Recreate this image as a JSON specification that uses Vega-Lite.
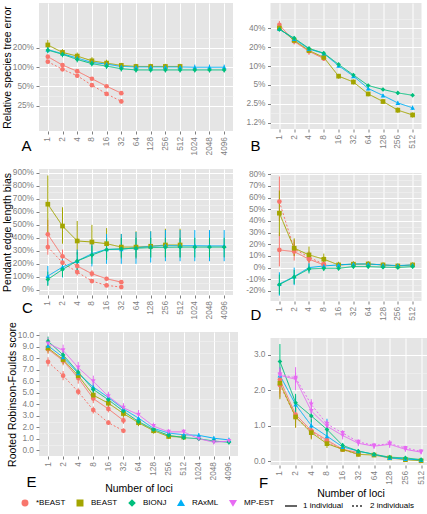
{
"$schema": "https://vega.github.io/schema/vega-lite/v6.json",
"padding": {"left": 2, "top": 3, "right": 2, "bottom": 2},
"background": "white",
"config": {
  "view": {"fill": "#E5E5E5", "stroke": null},
  "font": "Liberation Sans",
  "axis": {"domain": false, "labelColor": "#7F7F7F", "labelFontSize": 8.3, "tickColor": "#7F7F7F", "tickSize": 3, "gridColor": "#FFFFFF", "gridWidth": 1, "titleFontWeight": "normal", "titleFontSize": 10.5, "titleColor": "black", "labelPadding": 2.5, "titlePadding": 0, "labelOverlap": false},
  "axisX": {"labelAngle": -90},
  "axisY": {"tickCount": 100},
  "title": {"fontSize": 15, "fontWeight": "normal", "color": "black"},
  "legend": {"labelFontSize": 8, "labelColor": "black", "columnPadding": 8, "labelOffset": 7, "padding": 0, "gridAlign": "none"}
},
"data": {"values": [
{"p":"A","m":"*BEAST","i":"1 individual","x":1,"y":1.45,"lo":1.37,"hi":1.53},
{"p":"A","m":"*BEAST","i":"1 individual","x":2,"y":1.07,"lo":1.01,"hi":1.13},
{"p":"A","m":"*BEAST","i":"1 individual","x":4,"y":0.86,"lo":0.81,"hi":0.91},
{"p":"A","m":"*BEAST","i":"1 individual","x":8,"y":0.655,"lo":0.62,"hi":0.69},
{"p":"A","m":"*BEAST","i":"1 individual","x":16,"y":0.5,"lo":0.47,"hi":0.53},
{"p":"A","m":"*BEAST","i":"1 individual","x":32,"y":0.39,"lo":0.37,"hi":0.41},
{"p":"A","m":"*BEAST","i":"2 individuals","x":1,"y":1.21,"lo":1.14,"hi":1.28},
{"p":"A","m":"*BEAST","i":"2 individuals","x":2,"y":0.92,"lo":0.87,"hi":0.97},
{"p":"A","m":"*BEAST","i":"2 individuals","x":4,"y":0.73,"lo":0.69,"hi":0.77},
{"p":"A","m":"*BEAST","i":"2 individuals","x":8,"y":0.52,"lo":0.49,"hi":0.55},
{"p":"A","m":"*BEAST","i":"2 individuals","x":16,"y":0.38,"lo":0.36,"hi":0.4},
{"p":"A","m":"*BEAST","i":"2 individuals","x":32,"y":0.29,"lo":0.27,"hi":0.31},
{"p":"A","m":"BEAST","i":"1 individual","x":1,"y":2.21,"lo":1.95,"hi":2.65},
{"p":"A","m":"BEAST","i":"1 individual","x":2,"y":1.69,"lo":1.5,"hi":1.9},
{"p":"A","m":"BEAST","i":"1 individual","x":4,"y":1.48,"lo":1.3,"hi":1.68},
{"p":"A","m":"BEAST","i":"1 individual","x":8,"y":1.25,"lo":1.1,"hi":1.42},
{"p":"A","m":"BEAST","i":"1 individual","x":16,"y":1.15,"lo":1.02,"hi":1.3},
{"p":"A","m":"BEAST","i":"1 individual","x":32,"y":1.06,"lo":0.95,"hi":1.16},
{"p":"A","m":"BEAST","i":"1 individual","x":64,"y":1.02,"lo":0.93,"hi":1.12},
{"p":"A","m":"BEAST","i":"1 individual","x":128,"y":1.02,"lo":0.93,"hi":1.12},
{"p":"A","m":"BEAST","i":"1 individual","x":256,"y":1.02,"lo":0.93,"hi":1.12},
{"p":"A","m":"BEAST","i":"1 individual","x":512,"y":1.02,"lo":0.93,"hi":1.12},
{"p":"A","m":"RAxML","i":"1 individual","x":1,"y":1.87,"lo":1.66,"hi":2.1},
{"p":"A","m":"RAxML","i":"1 individual","x":2,"y":1.61,"lo":1.45,"hi":1.8},
{"p":"A","m":"RAxML","i":"1 individual","x":4,"y":1.38,"lo":1.24,"hi":1.52},
{"p":"A","m":"RAxML","i":"1 individual","x":8,"y":1.18,"lo":1.06,"hi":1.31},
{"p":"A","m":"RAxML","i":"1 individual","x":16,"y":1.11,"lo":1.0,"hi":1.23},
{"p":"A","m":"RAxML","i":"1 individual","x":32,"y":1.02,"lo":0.93,"hi":1.12},
{"p":"A","m":"RAxML","i":"1 individual","x":64,"y":1.0,"lo":0.91,"hi":1.1},
{"p":"A","m":"RAxML","i":"1 individual","x":128,"y":1.0,"lo":0.91,"hi":1.1},
{"p":"A","m":"RAxML","i":"1 individual","x":256,"y":1.0,"lo":0.91,"hi":1.1},
{"p":"A","m":"RAxML","i":"1 individual","x":512,"y":1.0,"lo":0.91,"hi":1.1},
{"p":"A","m":"RAxML","i":"1 individual","x":1024,"y":0.99,"lo":0.9,"hi":1.09},
{"p":"A","m":"RAxML","i":"1 individual","x":2048,"y":0.99,"lo":0.9,"hi":1.09},
{"p":"A","m":"RAxML","i":"1 individual","x":4096,"y":0.99,"lo":0.9,"hi":1.09},
{"p":"A","m":"BIONJ","i":"1 individual","x":1,"y":1.84,"lo":1.64,"hi":2.05},
{"p":"A","m":"BIONJ","i":"1 individual","x":2,"y":1.58,"lo":1.42,"hi":1.76},
{"p":"A","m":"BIONJ","i":"1 individual","x":4,"y":1.31,"lo":1.18,"hi":1.45},
{"p":"A","m":"BIONJ","i":"1 individual","x":8,"y":1.13,"lo":1.02,"hi":1.25},
{"p":"A","m":"BIONJ","i":"1 individual","x":16,"y":1.03,"lo":0.93,"hi":1.14},
{"p":"A","m":"BIONJ","i":"1 individual","x":32,"y":0.94,"lo":0.85,"hi":1.03},
{"p":"A","m":"BIONJ","i":"1 individual","x":64,"y":0.9,"lo":0.82,"hi":0.98},
{"p":"A","m":"BIONJ","i":"1 individual","x":128,"y":0.9,"lo":0.82,"hi":0.98},
{"p":"A","m":"BIONJ","i":"1 individual","x":256,"y":0.9,"lo":0.82,"hi":0.98},
{"p":"A","m":"BIONJ","i":"1 individual","x":512,"y":0.9,"lo":0.82,"hi":0.98},
{"p":"A","m":"BIONJ","i":"1 individual","x":1024,"y":0.9,"lo":0.82,"hi":0.98},
{"p":"A","m":"BIONJ","i":"1 individual","x":2048,"y":0.9,"lo":0.82,"hi":0.98},
{"p":"A","m":"BIONJ","i":"1 individual","x":4096,"y":0.9,"lo":0.82,"hi":0.98},

{"p":"B","m":"*BEAST","i":"1 individual","x":1,"y":0.45,"lo":0.4,"hi":0.52},
{"p":"B","m":"*BEAST","i":"1 individual","x":2,"y":0.246,"lo":0.22,"hi":0.275},
{"p":"B","m":"*BEAST","i":"1 individual","x":4,"y":0.171,"lo":0.15,"hi":0.19},
{"p":"B","m":"*BEAST","i":"1 individual","x":8,"y":0.131,"lo":0.12,"hi":0.145},
{"p":"B","m":"BEAST","i":"1 individual","x":1,"y":0.4,"lo":0.37,"hi":0.43},
{"p":"B","m":"BEAST","i":"1 individual","x":2,"y":0.255,"lo":0.24,"hi":0.27},
{"p":"B","m":"BEAST","i":"1 individual","x":4,"y":0.176,"lo":0.165,"hi":0.188},
{"p":"B","m":"BEAST","i":"1 individual","x":8,"y":0.137,"lo":0.128,"hi":0.147},
{"p":"B","m":"BEAST","i":"1 individual","x":16,"y":0.069,"lo":0.063,"hi":0.075},
{"p":"B","m":"BEAST","i":"1 individual","x":32,"y":0.0557,"lo":0.051,"hi":0.061},
{"p":"B","m":"BEAST","i":"1 individual","x":64,"y":0.036,"lo":0.033,"hi":0.039},
{"p":"B","m":"BEAST","i":"1 individual","x":128,"y":0.0273,"lo":0.025,"hi":0.03},
{"p":"B","m":"BEAST","i":"1 individual","x":256,"y":0.0199,"lo":0.018,"hi":0.022},
{"p":"B","m":"BEAST","i":"1 individual","x":512,"y":0.0167,"lo":0.0152,"hi":0.0183},
{"p":"B","m":"RAxML","i":"1 individual","x":1,"y":0.386,"lo":0.36,"hi":0.41},
{"p":"B","m":"RAxML","i":"1 individual","x":2,"y":0.268,"lo":0.25,"hi":0.285},
{"p":"B","m":"RAxML","i":"1 individual","x":4,"y":0.186,"lo":0.175,"hi":0.197},
{"p":"B","m":"RAxML","i":"1 individual","x":8,"y":0.158,"lo":0.149,"hi":0.167},
{"p":"B","m":"RAxML","i":"1 individual","x":16,"y":0.101,"lo":0.095,"hi":0.107},
{"p":"B","m":"RAxML","i":"1 individual","x":32,"y":0.069,"lo":0.065,"hi":0.073},
{"p":"B","m":"RAxML","i":"1 individual","x":64,"y":0.044,"lo":0.041,"hi":0.047},
{"p":"B","m":"RAxML","i":"1 individual","x":128,"y":0.034,"lo":0.032,"hi":0.036},
{"p":"B","m":"RAxML","i":"1 individual","x":256,"y":0.0259,"lo":0.024,"hi":0.028},
{"p":"B","m":"RAxML","i":"1 individual","x":512,"y":0.0217,"lo":0.02,"hi":0.0235},
{"p":"B","m":"BIONJ","i":"1 individual","x":1,"y":0.38,"lo":0.355,"hi":0.405},
{"p":"B","m":"BIONJ","i":"1 individual","x":2,"y":0.277,"lo":0.26,"hi":0.295},
{"p":"B","m":"BIONJ","i":"1 individual","x":4,"y":0.19,"lo":0.179,"hi":0.201},
{"p":"B","m":"BIONJ","i":"1 individual","x":8,"y":0.16,"lo":0.151,"hi":0.169},
{"p":"B","m":"BIONJ","i":"1 individual","x":16,"y":0.106,"lo":0.1,"hi":0.112},
{"p":"B","m":"BIONJ","i":"1 individual","x":32,"y":0.072,"lo":0.068,"hi":0.076},
{"p":"B","m":"BIONJ","i":"1 individual","x":64,"y":0.049,"lo":0.046,"hi":0.052},
{"p":"B","m":"BIONJ","i":"1 individual","x":128,"y":0.0424,"lo":0.04,"hi":0.045},
{"p":"B","m":"BIONJ","i":"1 individual","x":256,"y":0.0374,"lo":0.035,"hi":0.04},
{"p":"B","m":"BIONJ","i":"1 individual","x":512,"y":0.0343,"lo":0.032,"hi":0.0366},

{"p":"C","m":"*BEAST","i":"1 individual","x":1,"y":427,"lo":310,"hi":540},
{"p":"C","m":"*BEAST","i":"1 individual","x":2,"y":258,"lo":210,"hi":310},
{"p":"C","m":"*BEAST","i":"1 individual","x":4,"y":183,"lo":150,"hi":220},
{"p":"C","m":"*BEAST","i":"1 individual","x":8,"y":124,"lo":100,"hi":150},
{"p":"C","m":"*BEAST","i":"1 individual","x":16,"y":85,"lo":70,"hi":100},
{"p":"C","m":"*BEAST","i":"1 individual","x":32,"y":59,"lo":50,"hi":70},
{"p":"C","m":"*BEAST","i":"2 individuals","x":1,"y":329,"lo":270,"hi":390},
{"p":"C","m":"*BEAST","i":"2 individuals","x":2,"y":209,"lo":170,"hi":250},
{"p":"C","m":"*BEAST","i":"2 individuals","x":4,"y":137,"lo":110,"hi":160},
{"p":"C","m":"*BEAST","i":"2 individuals","x":8,"y":67,"lo":55,"hi":80},
{"p":"C","m":"*BEAST","i":"2 individuals","x":16,"y":34,"lo":28,"hi":42},
{"p":"C","m":"*BEAST","i":"2 individuals","x":32,"y":21,"lo":17,"hi":26},
{"p":"C","m":"BEAST","i":"1 individual","x":1,"y":659,"lo":430,"hi":880},
{"p":"C","m":"BEAST","i":"1 individual","x":2,"y":491,"lo":355,"hi":635},
{"p":"C","m":"BEAST","i":"1 individual","x":4,"y":376,"lo":270,"hi":530},
{"p":"C","m":"BEAST","i":"1 individual","x":8,"y":368,"lo":250,"hi":500},
{"p":"C","m":"BEAST","i":"1 individual","x":16,"y":355,"lo":250,"hi":475},
{"p":"C","m":"BEAST","i":"1 individual","x":32,"y":329,"lo":240,"hi":430},
{"p":"C","m":"BEAST","i":"1 individual","x":64,"y":329,"lo":240,"hi":450},
{"p":"C","m":"BEAST","i":"1 individual","x":128,"y":335,"lo":250,"hi":450},
{"p":"C","m":"BEAST","i":"1 individual","x":256,"y":345,"lo":250,"hi":470},
{"p":"C","m":"BEAST","i":"1 individual","x":512,"y":345,"lo":250,"hi":470},
{"p":"C","m":"RAxML","i":"1 individual","x":1,"y":106,"lo":35,"hi":183},
{"p":"C","m":"RAxML","i":"1 individual","x":2,"y":175,"lo":95,"hi":240},
{"p":"C","m":"RAxML","i":"1 individual","x":4,"y":222,"lo":130,"hi":310},
{"p":"C","m":"RAxML","i":"1 individual","x":8,"y":278,"lo":180,"hi":380},
{"p":"C","m":"RAxML","i":"1 individual","x":16,"y":312,"lo":200,"hi":430},
{"p":"C","m":"RAxML","i":"1 individual","x":32,"y":312,"lo":200,"hi":430},
{"p":"C","m":"RAxML","i":"1 individual","x":64,"y":324,"lo":200,"hi":445},
{"p":"C","m":"RAxML","i":"1 individual","x":128,"y":335,"lo":210,"hi":450},
{"p":"C","m":"RAxML","i":"1 individual","x":256,"y":340,"lo":220,"hi":460},
{"p":"C","m":"RAxML","i":"1 individual","x":512,"y":340,"lo":220,"hi":460},
{"p":"C","m":"RAxML","i":"1 individual","x":1024,"y":340,"lo":220,"hi":460},
{"p":"C","m":"RAxML","i":"1 individual","x":2048,"y":338,"lo":220,"hi":460},
{"p":"C","m":"RAxML","i":"1 individual","x":4096,"y":338,"lo":220,"hi":460},
{"p":"C","m":"BIONJ","i":"1 individual","x":1,"y":80,"lo":30,"hi":140},
{"p":"C","m":"BIONJ","i":"1 individual","x":2,"y":157,"lo":100,"hi":220},
{"p":"C","m":"BIONJ","i":"1 individual","x":4,"y":222,"lo":150,"hi":290},
{"p":"C","m":"BIONJ","i":"1 individual","x":8,"y":268,"lo":200,"hi":340},
{"p":"C","m":"BIONJ","i":"1 individual","x":16,"y":309,"lo":230,"hi":390},
{"p":"C","m":"BIONJ","i":"1 individual","x":32,"y":316,"lo":250,"hi":400},
{"p":"C","m":"BIONJ","i":"1 individual","x":64,"y":320,"lo":250,"hi":400},
{"p":"C","m":"BIONJ","i":"1 individual","x":128,"y":325,"lo":250,"hi":400},
{"p":"C","m":"BIONJ","i":"1 individual","x":256,"y":327,"lo":250,"hi":400},
{"p":"C","m":"BIONJ","i":"1 individual","x":512,"y":329,"lo":250,"hi":400},
{"p":"C","m":"BIONJ","i":"1 individual","x":1024,"y":329,"lo":250,"hi":400},
{"p":"C","m":"BIONJ","i":"1 individual","x":2048,"y":329,"lo":250,"hi":400},
{"p":"C","m":"BIONJ","i":"1 individual","x":4096,"y":329,"lo":250,"hi":400},

{"p":"D","m":"*BEAST","i":"1 individual","x":1,"y":0.151,"lo":0.01,"hi":0.3},
{"p":"D","m":"*BEAST","i":"1 individual","x":2,"y":0.137,"lo":0.06,"hi":0.22},
{"p":"D","m":"*BEAST","i":"1 individual","x":4,"y":0.072,"lo":0.03,"hi":0.12},
{"p":"D","m":"*BEAST","i":"1 individual","x":8,"y":0.023,"lo":0.0,"hi":0.05},
{"p":"D","m":"*BEAST","i":"2 individuals","x":1,"y":0.565,"lo":0.4,"hi":0.78},
{"p":"D","m":"*BEAST","i":"2 individuals","x":2,"y":0.16,"lo":0.1,"hi":0.24},
{"p":"D","m":"*BEAST","i":"2 individuals","x":4,"y":0.089,"lo":0.04,"hi":0.14},
{"p":"D","m":"*BEAST","i":"2 individuals","x":8,"y":0.029,"lo":0.0,"hi":0.06},
{"p":"D","m":"BEAST","i":"1 individual","x":1,"y":0.466,"lo":0.27,"hi":0.66},
{"p":"D","m":"BEAST","i":"1 individual","x":2,"y":0.166,"lo":0.1,"hi":0.25},
{"p":"D","m":"BEAST","i":"1 individual","x":4,"y":0.109,"lo":0.05,"hi":0.18},
{"p":"D","m":"BEAST","i":"1 individual","x":8,"y":0.072,"lo":0.03,"hi":0.12},
{"p":"D","m":"BEAST","i":"1 individual","x":16,"y":0.023,"lo":0.0,"hi":0.05},
{"p":"D","m":"BEAST","i":"1 individual","x":32,"y":0.029,"lo":0.005,"hi":0.055},
{"p":"D","m":"BEAST","i":"1 individual","x":64,"y":0.031,"lo":0.01,"hi":0.055},
{"p":"D","m":"BEAST","i":"1 individual","x":128,"y":0.023,"lo":0.005,"hi":0.045},
{"p":"D","m":"BEAST","i":"1 individual","x":256,"y":0.014,"lo":0.0,"hi":0.035},
{"p":"D","m":"BEAST","i":"1 individual","x":512,"y":0.023,"lo":0.005,"hi":0.045},
{"p":"D","m":"RAxML","i":"1 individual","x":1,"y":-0.14,"lo":-0.24,"hi":-0.04},
{"p":"D","m":"RAxML","i":"1 individual","x":2,"y":-0.077,"lo":-0.15,"hi":0.0},
{"p":"D","m":"RAxML","i":"1 individual","x":4,"y":0.0,"lo":-0.04,"hi":0.04},
{"p":"D","m":"RAxML","i":"1 individual","x":8,"y":0.014,"lo":-0.005,"hi":0.035},
{"p":"D","m":"RAxML","i":"1 individual","x":16,"y":0.023,"lo":0.005,"hi":0.04},
{"p":"D","m":"RAxML","i":"1 individual","x":32,"y":0.031,"lo":0.015,"hi":0.047},
{"p":"D","m":"RAxML","i":"1 individual","x":64,"y":0.031,"lo":0.015,"hi":0.047},
{"p":"D","m":"RAxML","i":"1 individual","x":128,"y":0.023,"lo":0.008,"hi":0.038},
{"p":"D","m":"RAxML","i":"1 individual","x":256,"y":0.017,"lo":0.002,"hi":0.032},
{"p":"D","m":"RAxML","i":"1 individual","x":512,"y":0.023,"lo":0.008,"hi":0.038},
{"p":"D","m":"BIONJ","i":"1 individual","x":1,"y":-0.145,"lo":-0.23,"hi":-0.06},
{"p":"D","m":"BIONJ","i":"1 individual","x":2,"y":-0.08,"lo":-0.14,"hi":-0.02},
{"p":"D","m":"BIONJ","i":"1 individual","x":4,"y":-0.011,"lo":-0.05,"hi":0.03},
{"p":"D","m":"BIONJ","i":"1 individual","x":8,"y":-0.006,"lo":-0.03,"hi":0.018},
{"p":"D","m":"BIONJ","i":"1 individual","x":16,"y":-0.006,"lo":-0.025,"hi":0.013},
{"p":"D","m":"BIONJ","i":"1 individual","x":32,"y":0.009,"lo":-0.008,"hi":0.026},
{"p":"D","m":"BIONJ","i":"1 individual","x":64,"y":0.009,"lo":-0.008,"hi":0.026},
{"p":"D","m":"BIONJ","i":"1 individual","x":128,"y":0.004,"lo":-0.012,"hi":0.02},
{"p":"D","m":"BIONJ","i":"1 individual","x":256,"y":0.001,"lo":-0.015,"hi":0.017},
{"p":"D","m":"BIONJ","i":"1 individual","x":512,"y":0.009,"lo":-0.007,"hi":0.025},

{"p":"E","m":"*BEAST","i":"1 individual","x":1,"y":8.8,"lo":8.4,"hi":9.2},
{"p":"E","m":"*BEAST","i":"1 individual","x":2,"y":7.8,"lo":7.4,"hi":8.2},
{"p":"E","m":"*BEAST","i":"1 individual","x":4,"y":6.3,"lo":5.8,"hi":6.8},
{"p":"E","m":"*BEAST","i":"1 individual","x":8,"y":4.5,"lo":4.1,"hi":4.9},
{"p":"E","m":"*BEAST","i":"1 individual","x":16,"y":3.6,"lo":3.3,"hi":3.9},
{"p":"E","m":"*BEAST","i":"1 individual","x":32,"y":2.6,"lo":2.3,"hi":2.9},
{"p":"E","m":"*BEAST","i":"2 individuals","x":1,"y":7.7,"lo":7.3,"hi":8.1},
{"p":"E","m":"*BEAST","i":"2 individuals","x":2,"y":6.5,"lo":6.1,"hi":6.9},
{"p":"E","m":"*BEAST","i":"2 individuals","x":4,"y":5.1,"lo":4.8,"hi":5.4},
{"p":"E","m":"*BEAST","i":"2 individuals","x":8,"y":3.5,"lo":3.2,"hi":3.8},
{"p":"E","m":"*BEAST","i":"2 individuals","x":16,"y":2.4,"lo":2.2,"hi":2.6},
{"p":"E","m":"*BEAST","i":"2 individuals","x":32,"y":1.7,"lo":1.5,"hi":1.9},
{"p":"E","m":"BEAST","i":"1 individual","x":1,"y":8.9,"lo":8.5,"hi":9.3},
{"p":"E","m":"BEAST","i":"1 individual","x":2,"y":7.9,"lo":7.5,"hi":8.3},
{"p":"E","m":"BEAST","i":"1 individual","x":4,"y":6.5,"lo":6.1,"hi":6.9},
{"p":"E","m":"BEAST","i":"1 individual","x":8,"y":4.8,"lo":4.4,"hi":5.2},
{"p":"E","m":"BEAST","i":"1 individual","x":16,"y":4.1,"lo":3.8,"hi":4.4},
{"p":"E","m":"BEAST","i":"1 individual","x":32,"y":3.2,"lo":2.9,"hi":3.5},
{"p":"E","m":"BEAST","i":"1 individual","x":64,"y":2.4,"lo":2.1,"hi":2.7},
{"p":"E","m":"BEAST","i":"1 individual","x":128,"y":1.7,"lo":1.45,"hi":1.95},
{"p":"E","m":"BEAST","i":"1 individual","x":256,"y":1.2,"lo":1.0,"hi":1.4},
{"p":"E","m":"BEAST","i":"1 individual","x":512,"y":1.15,"lo":0.95,"hi":1.35},
{"p":"E","m":"RAxML","i":"1 individual","x":1,"y":9.1,"lo":8.7,"hi":9.5},
{"p":"E","m":"RAxML","i":"1 individual","x":2,"y":8.1,"lo":7.7,"hi":8.5},
{"p":"E","m":"RAxML","i":"1 individual","x":4,"y":6.7,"lo":6.3,"hi":7.1},
{"p":"E","m":"RAxML","i":"1 individual","x":8,"y":5.5,"lo":5.1,"hi":5.9},
{"p":"E","m":"RAxML","i":"1 individual","x":16,"y":4.6,"lo":4.25,"hi":4.95},
{"p":"E","m":"RAxML","i":"1 individual","x":32,"y":3.6,"lo":3.25,"hi":3.95},
{"p":"E","m":"RAxML","i":"1 individual","x":64,"y":2.8,"lo":2.5,"hi":3.1},
{"p":"E","m":"RAxML","i":"1 individual","x":128,"y":1.9,"lo":1.65,"hi":2.15},
{"p":"E","m":"RAxML","i":"1 individual","x":256,"y":1.5,"lo":1.3,"hi":1.7},
{"p":"E","m":"RAxML","i":"1 individual","x":512,"y":1.35,"lo":1.15,"hi":1.55},
{"p":"E","m":"RAxML","i":"1 individual","x":1024,"y":1.3,"lo":1.1,"hi":1.5},
{"p":"E","m":"RAxML","i":"1 individual","x":2048,"y":1.05,"lo":0.85,"hi":1.25},
{"p":"E","m":"RAxML","i":"1 individual","x":4096,"y":0.9,"lo":0.7,"hi":1.1},
{"p":"E","m":"BIONJ","i":"1 individual","x":1,"y":9.5,"lo":9.1,"hi":9.9},
{"p":"E","m":"BIONJ","i":"1 individual","x":2,"y":8.3,"lo":7.9,"hi":8.7},
{"p":"E","m":"BIONJ","i":"1 individual","x":4,"y":6.8,"lo":6.4,"hi":7.2},
{"p":"E","m":"BIONJ","i":"1 individual","x":8,"y":5.3,"lo":4.9,"hi":5.7},
{"p":"E","m":"BIONJ","i":"1 individual","x":16,"y":4.4,"lo":4.05,"hi":4.75},
{"p":"E","m":"BIONJ","i":"1 individual","x":32,"y":3.4,"lo":3.1,"hi":3.7},
{"p":"E","m":"BIONJ","i":"1 individual","x":64,"y":2.5,"lo":2.2,"hi":2.8},
{"p":"E","m":"BIONJ","i":"1 individual","x":128,"y":1.8,"lo":1.55,"hi":2.05},
{"p":"E","m":"BIONJ","i":"1 individual","x":256,"y":1.3,"lo":1.1,"hi":1.5},
{"p":"E","m":"BIONJ","i":"1 individual","x":512,"y":1.1,"lo":0.9,"hi":1.3},
{"p":"E","m":"BIONJ","i":"1 individual","x":1024,"y":1.0,"lo":0.8,"hi":1.2},
{"p":"E","m":"BIONJ","i":"1 individual","x":2048,"y":0.8,"lo":0.6,"hi":1.0},
{"p":"E","m":"BIONJ","i":"1 individual","x":4096,"y":0.7,"lo":0.5,"hi":0.9},
{"p":"E","m":"MP-EST","i":"1 individual","x":1,"y":9.3,"lo":8.8,"hi":9.8},
{"p":"E","m":"MP-EST","i":"1 individual","x":2,"y":8.7,"lo":8.2,"hi":9.2},
{"p":"E","m":"MP-EST","i":"1 individual","x":4,"y":7.2,"lo":6.7,"hi":7.7},
{"p":"E","m":"MP-EST","i":"1 individual","x":8,"y":6.0,"lo":5.5,"hi":6.5},
{"p":"E","m":"MP-EST","i":"1 individual","x":16,"y":4.7,"lo":4.3,"hi":5.1},
{"p":"E","m":"MP-EST","i":"1 individual","x":32,"y":3.7,"lo":3.3,"hi":4.1},
{"p":"E","m":"MP-EST","i":"1 individual","x":64,"y":3.1,"lo":2.7,"hi":3.5},
{"p":"E","m":"MP-EST","i":"1 individual","x":128,"y":2.1,"lo":1.8,"hi":2.4},
{"p":"E","m":"MP-EST","i":"1 individual","x":256,"y":1.6,"lo":1.35,"hi":1.85},
{"p":"E","m":"MP-EST","i":"1 individual","x":512,"y":1.6,"lo":1.35,"hi":1.85},
{"p":"E","m":"MP-EST","i":"1 individual","x":1024,"y":1.0,"lo":0.8,"hi":1.2},
{"p":"E","m":"MP-EST","i":"1 individual","x":2048,"y":0.7,"lo":0.5,"hi":0.9},
{"p":"E","m":"MP-EST","i":"1 individual","x":4096,"y":0.8,"lo":0.6,"hi":1.0},

{"p":"F","m":"*BEAST","i":"1 individual","x":1,"y":2.3,"lo":1.9,"hi":2.6},
{"p":"F","m":"*BEAST","i":"1 individual","x":2,"y":1.32,"lo":1.1,"hi":1.55},
{"p":"F","m":"*BEAST","i":"1 individual","x":4,"y":0.87,"lo":0.7,"hi":1.05},
{"p":"F","m":"*BEAST","i":"1 individual","x":8,"y":0.6,"lo":0.5,"hi":0.72},
{"p":"F","m":"*BEAST","i":"1 individual","x":16,"y":0.34,"lo":0.28,"hi":0.4},
{"p":"F","m":"*BEAST","i":"1 individual","x":32,"y":0.25,"lo":0.2,"hi":0.3},
{"p":"F","m":"*BEAST","i":"2 individuals","x":1,"y":2.15,"lo":1.8,"hi":2.5},
{"p":"F","m":"*BEAST","i":"2 individuals","x":2,"y":1.25,"lo":0.95,"hi":1.5},
{"p":"F","m":"*BEAST","i":"2 individuals","x":4,"y":0.85,"lo":0.65,"hi":1.0},
{"p":"F","m":"*BEAST","i":"2 individuals","x":8,"y":0.55,"lo":0.45,"hi":0.65},
{"p":"F","m":"*BEAST","i":"2 individuals","x":16,"y":0.33,"lo":0.27,"hi":0.4},
{"p":"F","m":"*BEAST","i":"2 individuals","x":32,"y":0.2,"lo":0.16,"hi":0.25},
{"p":"F","m":"BEAST","i":"1 individual","x":1,"y":2.2,"lo":1.75,"hi":2.5},
{"p":"F","m":"BEAST","i":"1 individual","x":2,"y":1.25,"lo":0.95,"hi":1.5},
{"p":"F","m":"BEAST","i":"1 individual","x":4,"y":0.81,"lo":0.62,"hi":1.0},
{"p":"F","m":"BEAST","i":"1 individual","x":8,"y":0.5,"lo":0.38,"hi":0.62},
{"p":"F","m":"BEAST","i":"1 individual","x":16,"y":0.34,"lo":0.27,"hi":0.41},
{"p":"F","m":"BEAST","i":"1 individual","x":32,"y":0.2,"lo":0.15,"hi":0.25},
{"p":"F","m":"BEAST","i":"1 individual","x":64,"y":0.18,"lo":0.13,"hi":0.23},
{"p":"F","m":"BEAST","i":"1 individual","x":128,"y":0.1,"lo":0.07,"hi":0.13},
{"p":"F","m":"BEAST","i":"1 individual","x":256,"y":0.05,"lo":0.03,"hi":0.08},
{"p":"F","m":"BEAST","i":"1 individual","x":512,"y":0.02,"lo":0.0,"hi":0.04},
{"p":"F","m":"RAxML","i":"1 individual","x":1,"y":2.42,"lo":2.2,"hi":2.65},
{"p":"F","m":"RAxML","i":"1 individual","x":2,"y":1.6,"lo":1.35,"hi":1.85},
{"p":"F","m":"RAxML","i":"1 individual","x":4,"y":1.01,"lo":0.85,"hi":1.18},
{"p":"F","m":"RAxML","i":"1 individual","x":8,"y":0.71,"lo":0.55,"hi":1.2},
{"p":"F","m":"RAxML","i":"1 individual","x":16,"y":0.41,"lo":0.33,"hi":0.5},
{"p":"F","m":"RAxML","i":"1 individual","x":32,"y":0.29,"lo":0.23,"hi":0.35},
{"p":"F","m":"RAxML","i":"1 individual","x":64,"y":0.2,"lo":0.15,"hi":0.25},
{"p":"F","m":"RAxML","i":"1 individual","x":128,"y":0.1,"lo":0.07,"hi":0.13},
{"p":"F","m":"RAxML","i":"1 individual","x":256,"y":0.07,"lo":0.04,"hi":0.1},
{"p":"F","m":"RAxML","i":"1 individual","x":512,"y":0.04,"lo":0.01,"hi":0.07},
{"p":"F","m":"BIONJ","i":"1 individual","x":1,"y":2.81,"lo":2.3,"hi":3.3},
{"p":"F","m":"BIONJ","i":"1 individual","x":2,"y":1.65,"lo":1.4,"hi":1.9},
{"p":"F","m":"BIONJ","i":"1 individual","x":4,"y":1.28,"lo":1.1,"hi":1.45},
{"p":"F","m":"BIONJ","i":"1 individual","x":8,"y":0.9,"lo":0.75,"hi":1.05},
{"p":"F","m":"BIONJ","i":"1 individual","x":16,"y":0.45,"lo":0.38,"hi":0.52},
{"p":"F","m":"BIONJ","i":"1 individual","x":32,"y":0.29,"lo":0.23,"hi":0.35},
{"p":"F","m":"BIONJ","i":"1 individual","x":64,"y":0.2,"lo":0.15,"hi":0.25},
{"p":"F","m":"BIONJ","i":"1 individual","x":128,"y":0.12,"lo":0.08,"hi":0.16},
{"p":"F","m":"BIONJ","i":"1 individual","x":256,"y":0.1,"lo":0.07,"hi":0.13},
{"p":"F","m":"BIONJ","i":"1 individual","x":512,"y":0.05,"lo":0.02,"hi":0.08},
{"p":"F","m":"MP-EST","i":"1 individual","x":1,"y":2.42,"lo":2.2,"hi":2.65},
{"p":"F","m":"MP-EST","i":"1 individual","x":2,"y":2.31,"lo":2.0,"hi":2.65},
{"p":"F","m":"MP-EST","i":"1 individual","x":4,"y":1.42,"lo":1.2,"hi":1.7},
{"p":"F","m":"MP-EST","i":"1 individual","x":8,"y":0.99,"lo":0.85,"hi":1.15},
{"p":"F","m":"MP-EST","i":"1 individual","x":16,"y":0.73,"lo":0.62,"hi":0.85},
{"p":"F","m":"MP-EST","i":"1 individual","x":32,"y":0.51,"lo":0.43,"hi":0.6},
{"p":"F","m":"MP-EST","i":"1 individual","x":64,"y":0.43,"lo":0.35,"hi":0.5},
{"p":"F","m":"MP-EST","i":"1 individual","x":128,"y":0.48,"lo":0.38,"hi":0.6},
{"p":"F","m":"MP-EST","i":"1 individual","x":256,"y":0.34,"lo":0.27,"hi":0.42},
{"p":"F","m":"MP-EST","i":"1 individual","x":512,"y":0.26,"lo":0.2,"hi":0.33},
{"p":"F","m":"MP-EST","i":"2 individuals","x":1,"y":2.45,"lo":2.3,"hi":2.6},
{"p":"F","m":"MP-EST","i":"2 individuals","x":2,"y":2.35,"lo":2.2,"hi":2.5},
{"p":"F","m":"MP-EST","i":"2 individuals","x":4,"y":1.6,"lo":1.45,"hi":1.75},
{"p":"F","m":"MP-EST","i":"2 individuals","x":8,"y":1.05,"lo":0.95,"hi":1.15},
{"p":"F","m":"MP-EST","i":"2 individuals","x":16,"y":0.8,"lo":0.72,"hi":0.88},
{"p":"F","m":"MP-EST","i":"2 individuals","x":32,"y":0.55,"lo":0.48,"hi":0.62},
{"p":"F","m":"MP-EST","i":"2 individuals","x":64,"y":0.45,"lo":0.38,"hi":0.52},
{"p":"F","m":"MP-EST","i":"2 individuals","x":128,"y":0.5,"lo":0.42,"hi":0.58},
{"p":"F","m":"MP-EST","i":"2 individuals","x":256,"y":0.38,"lo":0.32,"hi":0.44},
{"p":"F","m":"MP-EST","i":"2 individuals","x":512,"y":0.28,"lo":0.22,"hi":0.34}
]},
"spacing": 7.5,
"resolve": {"scale": {"x": "independent", "y": "independent"}},
"hconcat": [
 {"spacing": 2, "resolve": {"scale": {"x": "independent", "y": "independent"}},
  "vconcat": [
  {"spacing": 12, "resolve": {"scale": {"x": "independent", "y": "independent"}},
   "vconcat": [
  {"width": 194, "height": 128,
   "title": {"text": "A", "orient": "bottom", "anchor": "start", "frame": "group", "align": "left", "dx": -17.5, "offset": -15.5},
   "transform": [{"filter": "datum.p == 'A'"}],
   "encoding": {
     "x": {"field": "x", "type": "ordinal", "scale": {"type": "point", "padding": 0.6, "domain": [1,2,4,8,16,32,64,128,256,512,1024,2048,4096]}, "axis": {"title": null, "grid": true, "labelOverlap": false}},
     "color": {"field": "m", "type": "nominal", "scale": {"domain": ["*BEAST","BEAST","BIONJ","RAxML","MP-EST"], "range": ["#F8766D","#A3A500","#00BF7D","#00B0F6","#E76BF3"]}, "legend": {"orient": "none", "legendX": -18, "legendY": 496, "direction": "horizontal", "title": null, "symbolSize": 30}}
   },
   "layer": [
     {"mark": {"type": "rule", "strokeWidth": 1}, "encoding": {"y": {"field": "lo", "type": "quantitative", "scale": {"type": "log", "domain": [0.23, 3.0]}}, "y2": {"field": "hi"}}},
     {"mark": {"type": "line", "strokeWidth": 1}, "encoding": {"y": {"field": "y", "type": "quantitative"}, "strokeDash": {"field": "i", "type": "nominal", "scale": {"domain": ["1 individual","2 individuals"], "range": [[1,0],[2,2]]}, "legend": {"orient": "none", "legendX": 245, "legendY": 496, "direction": "horizontal", "title": null, "symbolType": "stroke", "symbolSize": 144, "symbolStrokeColor": "#333333", "symbolStrokeWidth": 1.5, "labelOffset": 5, "columnPadding": 5}}}},
     {"mark": {"type": "point", "filled": true, "opacity": 1, "size": 22}, "encoding": {
        "y": {"field": "y", "type": "quantitative", "axis": {"title": "Relative species tree error", "tickCount": 100, "labelOverlap": false, "values": [0.25,0.3536,0.5,0.7071,1,1.4142,2,2.8284], "labelExpr": "indexof([0.25,0.5,1,2], datum.value) >= 0 ? format(datum.value, '.0%') : ''", "gridColor": {"condition": {"test": "indexof([0.25,0.5,1,2], datum.value) >= 0", "value": "#FFFFFF"}, "value": "#F2F2F2"}, "gridWidth": {"condition": {"test": "indexof([0.25,0.5,1,2], datum.value) >= 0", "value": 1}, "value": 0.6}, "tickOpacity": {"condition": {"test": "indexof([0.25,0.5,1,2], datum.value) >= 0", "value": 1}, "value": 0}}},
        "shape": {"field": "m", "type": "nominal", "scale": {"domain": ["*BEAST","BEAST","BIONJ","RAxML","MP-EST"], "range": ["circle","square","diamond","triangle-up","triangle-down"]}, "legend": {"orient": "none", "legendX": -18, "legendY": 496, "direction": "horizontal", "title": null, "symbolSize": 30}}}}
   ]},
  {"width": 194, "height": 126,
   "title": {"text": "C", "orient": "bottom", "anchor": "start", "frame": "group", "align": "left", "dx": -17, "offset": -17.5},
   "transform": [{"filter": "datum.p == 'C'"}],
   "encoding": {
     "x": {"field": "x", "type": "ordinal", "scale": {"type": "point", "padding": 0.6, "domain": [1,2,4,8,16,32,64,128,256,512,1024,2048,4096]}, "axis": {"title": null, "grid": true, "labelOverlap": false}},
     "color": {"field": "m", "type": "nominal", "scale": {"domain": ["*BEAST","BEAST","BIONJ","RAxML","MP-EST"], "range": ["#F8766D","#A3A500","#00BF7D","#00B0F6","#E76BF3"]}, "legend": {"orient": "none", "legendX": -18, "legendY": 496, "direction": "horizontal", "title": null, "symbolSize": 30}}
   },
   "layer": [
     {"mark": {"type": "rule", "strokeWidth": 1}, "encoding": {"y": {"field": "lo", "type": "quantitative", "scale": {"domain": [-40, 930], "nice": false, "zero": false}}, "y2": {"field": "hi"}}},
     {"mark": {"type": "line", "strokeWidth": 1}, "encoding": {"y": {"field": "y", "type": "quantitative"}, "strokeDash": {"field": "i", "type": "nominal", "scale": {"domain": ["1 individual","2 individuals"], "range": [[1,0],[2,2]]}, "legend": {"orient": "none", "legendX": 245, "legendY": 496, "direction": "horizontal", "title": null, "symbolType": "stroke", "symbolSize": 144, "symbolStrokeColor": "#333333", "symbolStrokeWidth": 1.5, "labelOffset": 5, "columnPadding": 5}}}},
     {"mark": {"type": "point", "filled": true, "opacity": 1, "size": 22}, "encoding": {
        "y": {"field": "y", "type": "quantitative", "axis": {"title": "Pendant edge length bias", "tickCount": 100, "labelOverlap": false, "values": [0,50,100,150,200,250,300,350,400,450,500,550,600,650,700,750,800,850,900], "labelExpr": "indexof([0,100,200,300,400,500,600,700,800,900], datum.value) >= 0 ? datum.value + '%' : ''", "gridColor": {"condition": {"test": "indexof([0,100,200,300,400,500,600,700,800,900], datum.value) >= 0", "value": "#FFFFFF"}, "value": "#F2F2F2"}, "gridWidth": {"condition": {"test": "indexof([0,100,200,300,400,500,600,700,800,900], datum.value) >= 0", "value": 1}, "value": 0.6}, "tickOpacity": {"condition": {"test": "indexof([0,100,200,300,400,500,600,700,800,900], datum.value) >= 0", "value": 1}, "value": 0}}},
        "shape": {"field": "m", "type": "nominal", "scale": {"domain": ["*BEAST","BEAST","BIONJ","RAxML","MP-EST"], "range": ["circle","square","diamond","triangle-up","triangle-down"]}, "legend": {"orient": "none", "legendX": -18, "legendY": 496, "direction": "horizontal", "title": null, "symbolSize": 30}}}}
   ]}
   ]},
  {"width": 199, "height": 124,
   "title": {"text": "E", "orient": "bottom", "anchor": "start", "frame": "group", "align": "left", "dx": -12.5, "offset": -19},
   "transform": [{"filter": "datum.p == 'E'"}],
   "resolve": {"axis": {"y": "independent"}},
   "encoding": {
     "x": {"field": "x", "type": "ordinal", "scale": {"type": "point", "padding": 0.6, "domain": [1,2,4,8,16,32,64,128,256,512,1024,2048,4096]}, "axis": {"title": "Number of loci", "titlePadding": 3.5, "grid": true, "labelOverlap": false}},
     "color": {"field": "m", "type": "nominal", "scale": {"domain": ["*BEAST","BEAST","BIONJ","RAxML","MP-EST"], "range": ["#F8766D","#A3A500","#00BF7D","#00B0F6","#E76BF3"]}, "legend": {"orient": "none", "legendX": -18, "legendY": 496, "direction": "horizontal", "title": null, "symbolSize": 30}}
   },
   "layer": [
     {"mark": {"type": "rule", "strokeWidth": 1}, "encoding": {"y": {"field": "lo", "type": "quantitative", "scale": {"domain": [-0.5, 10.3], "nice": false, "zero": false}, "axis": {"orient": "right", "title": null, "labels": false, "ticks": false, "domain": false, "grid": true, "gridColor": "#F2F2F2", "gridWidth": 0.6, "tickCount": 100, "minExtent": 0, "maxExtent": 0, "values": [0.5,1.5,2.5,3.5,4.5,5.5,6.5,7.5,8.5,9.5]}}, "y2": {"field": "hi"}}},
     {"mark": {"type": "line", "strokeWidth": 1}, "encoding": {"y": {"field": "y", "type": "quantitative", "axis": null}, "strokeDash": {"field": "i", "type": "nominal", "scale": {"domain": ["1 individual","2 individuals"], "range": [[1,0],[2,2]]}, "legend": {"orient": "none", "legendX": 245, "legendY": 496, "direction": "horizontal", "title": null, "symbolType": "stroke", "symbolSize": 144, "symbolStrokeColor": "#333333", "symbolStrokeWidth": 1.5, "labelOffset": 5, "columnPadding": 5}}}},
     {"mark": {"type": "point", "filled": true, "opacity": 1, "size": 22}, "encoding": {
        "y": {"field": "y", "type": "quantitative", "axis": {"orient": "left", "title": "Rooted Robinson-Foulds score", "tickCount": 100, "labelOverlap": false, "values": [0,1,2,3,4,5,6,7,8,9,10], "format": ".1f"}},
        "shape": {"field": "m", "type": "nominal", "scale": {"domain": ["*BEAST","BEAST","BIONJ","RAxML","MP-EST"], "range": ["circle","square","diamond","triangle-up","triangle-down"]}, "legend": {"orient": "none", "legendX": -18, "legendY": 496, "direction": "horizontal", "title": null, "symbolSize": 30}}}}
   ]}
 ]},
 {"spacing": 14, "resolve": {"scale": {"x": "independent", "y": "independent"}},
  "vconcat": [
  {"width": 151, "height": 126,
   "title": {"text": "B", "orient": "bottom", "anchor": "start", "frame": "group", "align": "left", "dx": -20, "offset": -9},
   "transform": [{"filter": "datum.p == 'B'"}],
   "encoding": {
     "x": {"field": "x", "type": "ordinal", "scale": {"type": "point", "padding": 0.6, "domain": [1,2,4,8,16,32,64,128,256,512]}, "axis": {"title": null, "grid": true, "labelOverlap": false}},
     "color": {"field": "m", "type": "nominal", "scale": {"domain": ["*BEAST","BEAST","BIONJ","RAxML","MP-EST"], "range": ["#F8766D","#A3A500","#00BF7D","#00B0F6","#E76BF3"]}, "legend": {"orient": "none", "legendX": -18, "legendY": 496, "direction": "horizontal", "title": null, "symbolSize": 30}}
   },
   "layer": [
     {"mark": {"type": "rule", "strokeWidth": 1}, "encoding": {"y": {"field": "lo", "type": "quantitative", "scale": {"type": "log", "domain": [0.0122, 0.7]}}, "y2": {"field": "hi"}}},
     {"mark": {"type": "line", "strokeWidth": 1}, "encoding": {"y": {"field": "y", "type": "quantitative"}, "strokeDash": {"field": "i", "type": "nominal", "scale": {"domain": ["1 individual","2 individuals"], "range": [[1,0],[2,2]]}, "legend": {"orient": "none", "legendX": 245, "legendY": 496, "direction": "horizontal", "title": null, "symbolType": "stroke", "symbolSize": 144, "symbolStrokeColor": "#333333", "symbolStrokeWidth": 1.5, "labelOffset": 5, "columnPadding": 5}}}},
     {"mark": {"type": "point", "filled": true, "opacity": 1, "size": 22}, "encoding": {
        "y": {"field": "y", "type": "quantitative", "axis": {"title": null, "tickCount": 100, "labelOverlap": false, "values": [0.0125,0.01768,0.025,0.03536,0.05,0.07071,0.1,0.14142,0.2,0.28284,0.4,0.56569], "labelExpr": "datum.value == 0.0125 ? '1.2%' : indexof([0.025,0.05,0.1,0.2,0.4], datum.value) >= 0 ? format(datum.value, '~%') : ''", "gridColor": {"condition": {"test": "indexof([0.0125,0.025,0.05,0.1,0.2,0.4], datum.value) >= 0", "value": "#FFFFFF"}, "value": "#F2F2F2"}, "gridWidth": {"condition": {"test": "indexof([0.0125,0.025,0.05,0.1,0.2,0.4], datum.value) >= 0", "value": 1}, "value": 0.6}, "tickOpacity": {"condition": {"test": "indexof([0.0125,0.025,0.05,0.1,0.2,0.4], datum.value) >= 0", "value": 1}, "value": 0}}},
        "shape": {"field": "m", "type": "nominal", "scale": {"domain": ["*BEAST","BEAST","BIONJ","RAxML","MP-EST"], "range": ["circle","square","diamond","triangle-up","triangle-down"]}, "legend": {"orient": "none", "legendX": -18, "legendY": 496, "direction": "horizontal", "title": null, "symbolSize": 30}}}}
   ]},
  {"width": 151, "height": 128,
   "title": {"text": "D", "orient": "bottom", "anchor": "start", "frame": "group", "align": "left", "dx": -20, "offset": -12},
   "transform": [{"filter": "datum.p == 'D'"}],
   "encoding": {
     "x": {"field": "x", "type": "ordinal", "scale": {"type": "point", "padding": 0.6, "domain": [1,2,4,8,16,32,64,128,256,512]}, "axis": {"title": null, "grid": true, "labelOverlap": false}},
     "color": {"field": "m", "type": "nominal", "scale": {"domain": ["*BEAST","BEAST","BIONJ","RAxML","MP-EST"], "range": ["#F8766D","#A3A500","#00BF7D","#00B0F6","#E76BF3"]}, "legend": {"orient": "none", "legendX": -18, "legendY": 496, "direction": "horizontal", "title": null, "symbolSize": 30}}
   },
   "layer": [
     {"mark": {"type": "rule", "strokeWidth": 1}, "encoding": {"y": {"field": "lo", "type": "quantitative", "scale": {"domain": [-0.286, 0.81], "nice": false, "zero": false}}, "y2": {"field": "hi"}}},
     {"mark": {"type": "line", "strokeWidth": 1}, "encoding": {"y": {"field": "y", "type": "quantitative"}, "strokeDash": {"field": "i", "type": "nominal", "scale": {"domain": ["1 individual","2 individuals"], "range": [[1,0],[2,2]]}, "legend": {"orient": "none", "legendX": 245, "legendY": 496, "direction": "horizontal", "title": null, "symbolType": "stroke", "symbolSize": 144, "symbolStrokeColor": "#333333", "symbolStrokeWidth": 1.5, "labelOffset": 5, "columnPadding": 5}}}},
     {"mark": {"type": "point", "filled": true, "opacity": 1, "size": 22}, "encoding": {
        "y": {"field": "y", "type": "quantitative", "axis": {"title": null, "tickCount": 100, "labelOverlap": false, "values": [-0.25,-0.2,-0.15,-0.1,-0.05,0,0.05,0.1,0.15,0.2,0.25,0.3,0.35,0.4,0.45,0.5,0.55,0.6,0.65,0.7,0.75,0.8], "labelExpr": "abs(round(datum.value*100)) % 10 == 0 ? (datum.value < 0 ? '-' : '') + format(abs(datum.value), '.0%') : ''", "gridColor": {"condition": {"test": "abs(round(datum.value*100)) % 10 == 0", "value": "#FFFFFF"}, "value": "#F2F2F2"}, "gridWidth": {"condition": {"test": "abs(round(datum.value*100)) % 10 == 0", "value": 1}, "value": 0.6}, "tickOpacity": {"condition": {"test": "abs(round(datum.value*100)) % 10 == 0", "value": 1}, "value": 0}}},
        "shape": {"field": "m", "type": "nominal", "scale": {"domain": ["*BEAST","BEAST","BIONJ","RAxML","MP-EST"], "range": ["circle","square","diamond","triangle-up","triangle-down"]}, "legend": {"orient": "none", "legendX": -18, "legendY": 496, "direction": "horizontal", "title": null, "symbolSize": 30}}}}
   ]},
  {"width": 160, "height": 127,
   "title": {"text": "F", "orient": "bottom", "anchor": "start", "frame": "group", "align": "left", "dx": -11.5, "offset": -23},
   "transform": [{"filter": "datum.p == 'F'"}],
   "encoding": {
     "x": {"field": "x", "type": "ordinal", "scale": {"type": "point", "padding": 0.6, "domain": [1,2,4,8,16,32,64,128,256,512]}, "axis": {"title": "Number of loci", "titlePadding": 4, "grid": true, "labelOverlap": false}},
     "color": {"field": "m", "type": "nominal", "scale": {"domain": ["*BEAST","BEAST","BIONJ","RAxML","MP-EST"], "range": ["#F8766D","#A3A500","#00BF7D","#00B0F6","#E76BF3"]}, "legend": {"orient": "none", "legendX": -18, "legendY": 496, "direction": "horizontal", "title": null, "symbolSize": 30}}
   },
   "layer": [
     {"mark": {"type": "rule", "strokeWidth": 1}, "encoding": {"y": {"field": "lo", "type": "quantitative", "scale": {"domain": [-0.1, 3.47], "nice": false, "zero": false}}, "y2": {"field": "hi"}}},
     {"mark": {"type": "line", "strokeWidth": 1}, "encoding": {"y": {"field": "y", "type": "quantitative"}, "strokeDash": {"field": "i", "type": "nominal", "scale": {"domain": ["1 individual","2 individuals"], "range": [[1,0],[2,2]]}, "legend": {"orient": "none", "legendX": 245, "legendY": 496, "direction": "horizontal", "title": null, "symbolType": "stroke", "symbolSize": 144, "symbolStrokeColor": "#333333", "symbolStrokeWidth": 1.5, "labelOffset": 5, "columnPadding": 5}}}},
     {"mark": {"type": "point", "filled": true, "opacity": 1, "size": 22}, "encoding": {
        "y": {"field": "y", "type": "quantitative", "axis": {"title": null, "tickCount": 100, "labelOverlap": false, "values": [0,0.5,1,1.5,2,2.5,3], "labelExpr": "datum.value % 1 == 0 ? format(datum.value, '.1f') : ''", "gridColor": {"condition": {"test": "datum.value % 1 == 0", "value": "#FFFFFF"}, "value": "#F2F2F2"}, "gridWidth": {"condition": {"test": "datum.value % 1 == 0", "value": 1}, "value": 0.6}, "tickOpacity": {"condition": {"test": "datum.value % 1 == 0", "value": 1}, "value": 0}}},
        "shape": {"field": "m", "type": "nominal", "scale": {"domain": ["*BEAST","BEAST","BIONJ","RAxML","MP-EST"], "range": ["circle","square","diamond","triangle-up","triangle-down"]}, "legend": {"orient": "none", "legendX": -18, "legendY": 496, "direction": "horizontal", "title": null, "symbolSize": 30}}}}
   ]}
 ]}
]
}
